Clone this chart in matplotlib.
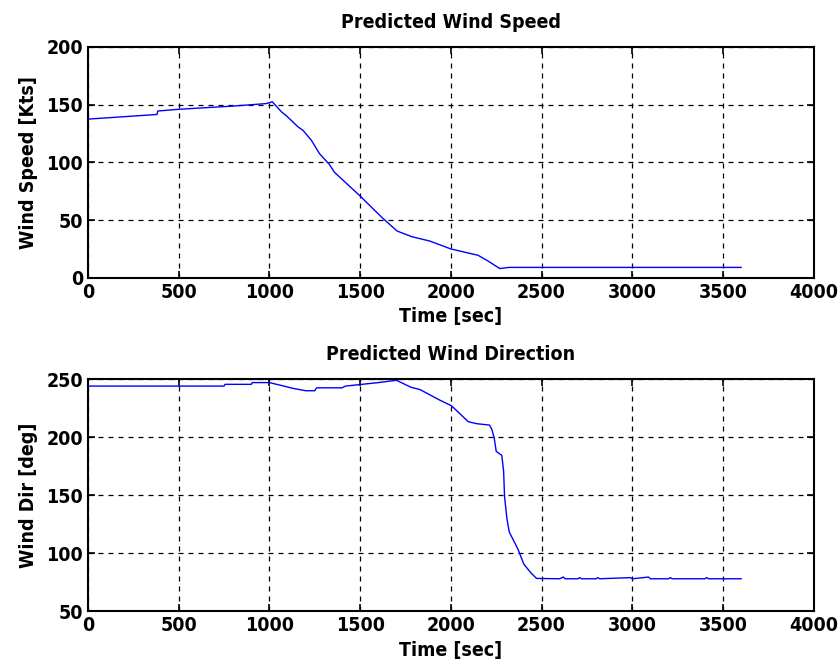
import matplotlib
matplotlib.use('Agg')
import matplotlib.pyplot as plt

plt.rcParams['font.family'] = ['DejaVu Sans']
plt.rcParams['font.stretch'] = 'condensed'
plt.rcParams['font.weight'] = 'bold'

# predicted wind speed (Kts) vs time (sec)
speed_t = [0, 380, 385, 500, 800, 980, 1016, 1067, 1095, 1158, 1185, 1231, 1276,
           1331, 1358, 1495, 1622, 1704, 1785, 1885, 2000, 2150, 2200, 2270, 2320, 3600]
speed_v = [137.5, 141.5, 144.5, 146, 148.8, 150.9, 152.5, 143.7, 140.2, 130.7, 127.8,
           119.2, 107.6, 98.1, 91.5, 71.6, 52, 40.5, 35.6, 31.8, 25, 19.5, 15, 8, 9, 9]

# predicted wind direction (deg) vs time (sec)
dir_t = [0, 750, 755, 900, 905, 1000, 1080, 1130, 1200, 1250, 1260, 1400, 1420,
         1600, 1700, 1780, 1830, 1939, 2004, 2096, 2143, 2213, 2226, 2239, 2250,
         2281, 2291, 2296, 2309, 2322, 2369, 2402, 2439, 2472, 2600, 2620, 2630,
         2700, 2710, 2720, 2800, 2810, 2820, 2990, 3000, 3090, 3100, 3200, 3210,
         3220, 3400, 3410, 3420, 3500, 3600]
dir_v = [244, 244, 245.5, 245.5, 247, 247, 244, 242, 240, 240, 242.5, 242.5, 244,
         247, 249, 243, 241, 231.9, 227, 213.3, 211.6, 210.4, 206.7, 199.4, 187.8,
         184.3, 170.4, 148.7, 129.9, 118.3, 103.8, 90.7, 83.5, 78.3, 78, 79.5, 78,
         78, 79, 78, 78, 79, 78, 79, 78, 79.5, 78, 78, 79,
         78, 78, 79, 78, 78, 78]

time_ticks = list(range(0, 4001, 500))

fig = plt.figure(figsize=(8.38, 6.71), dpi=100)
ax1 = fig.add_axes([0.105, 0.586, 0.866, 0.344])
ax2 = fig.add_axes([0.105, 0.089, 0.866, 0.346])

panels = [
    (ax1, speed_t, speed_v, 'Predicted Wind Speed', 'Wind Speed [Kts]', (0, 200), range(0, 201, 50)),
    (ax2, dir_t, dir_v, 'Predicted Wind Direction', 'Wind Dir [deg]', (50, 250), range(50, 251, 50)),
]

for ax, t, v, title, ylab, ylim, yticks in panels:
    ax.plot(t, v, color='#0000ff', lw=1.0)
    ax.set_xlim(0, 4000)
    ax.set_ylim(*ylim)
    ax.set_xticks(time_ticks)
    ax.set_yticks(list(yticks))
    ax.grid(True, color='black', linestyle=(0, (4, 4)), linewidth=0.9)
    ax.tick_params(direction='in', top=True, right=True, labelsize=14, length=5, width=1.2)
    for s in ax.spines.values():
        s.set_linewidth(1.5)
    ax.set_title(title, fontsize=14, fontweight='bold', pad=14)
    ax.set_xlabel('Time [sec]', fontsize=14, fontweight='bold', labelpad=4)
    ax.set_ylabel(ylab, fontsize=14, fontweight='bold', labelpad=6)

fig.savefig('out.png', dpi=100)
